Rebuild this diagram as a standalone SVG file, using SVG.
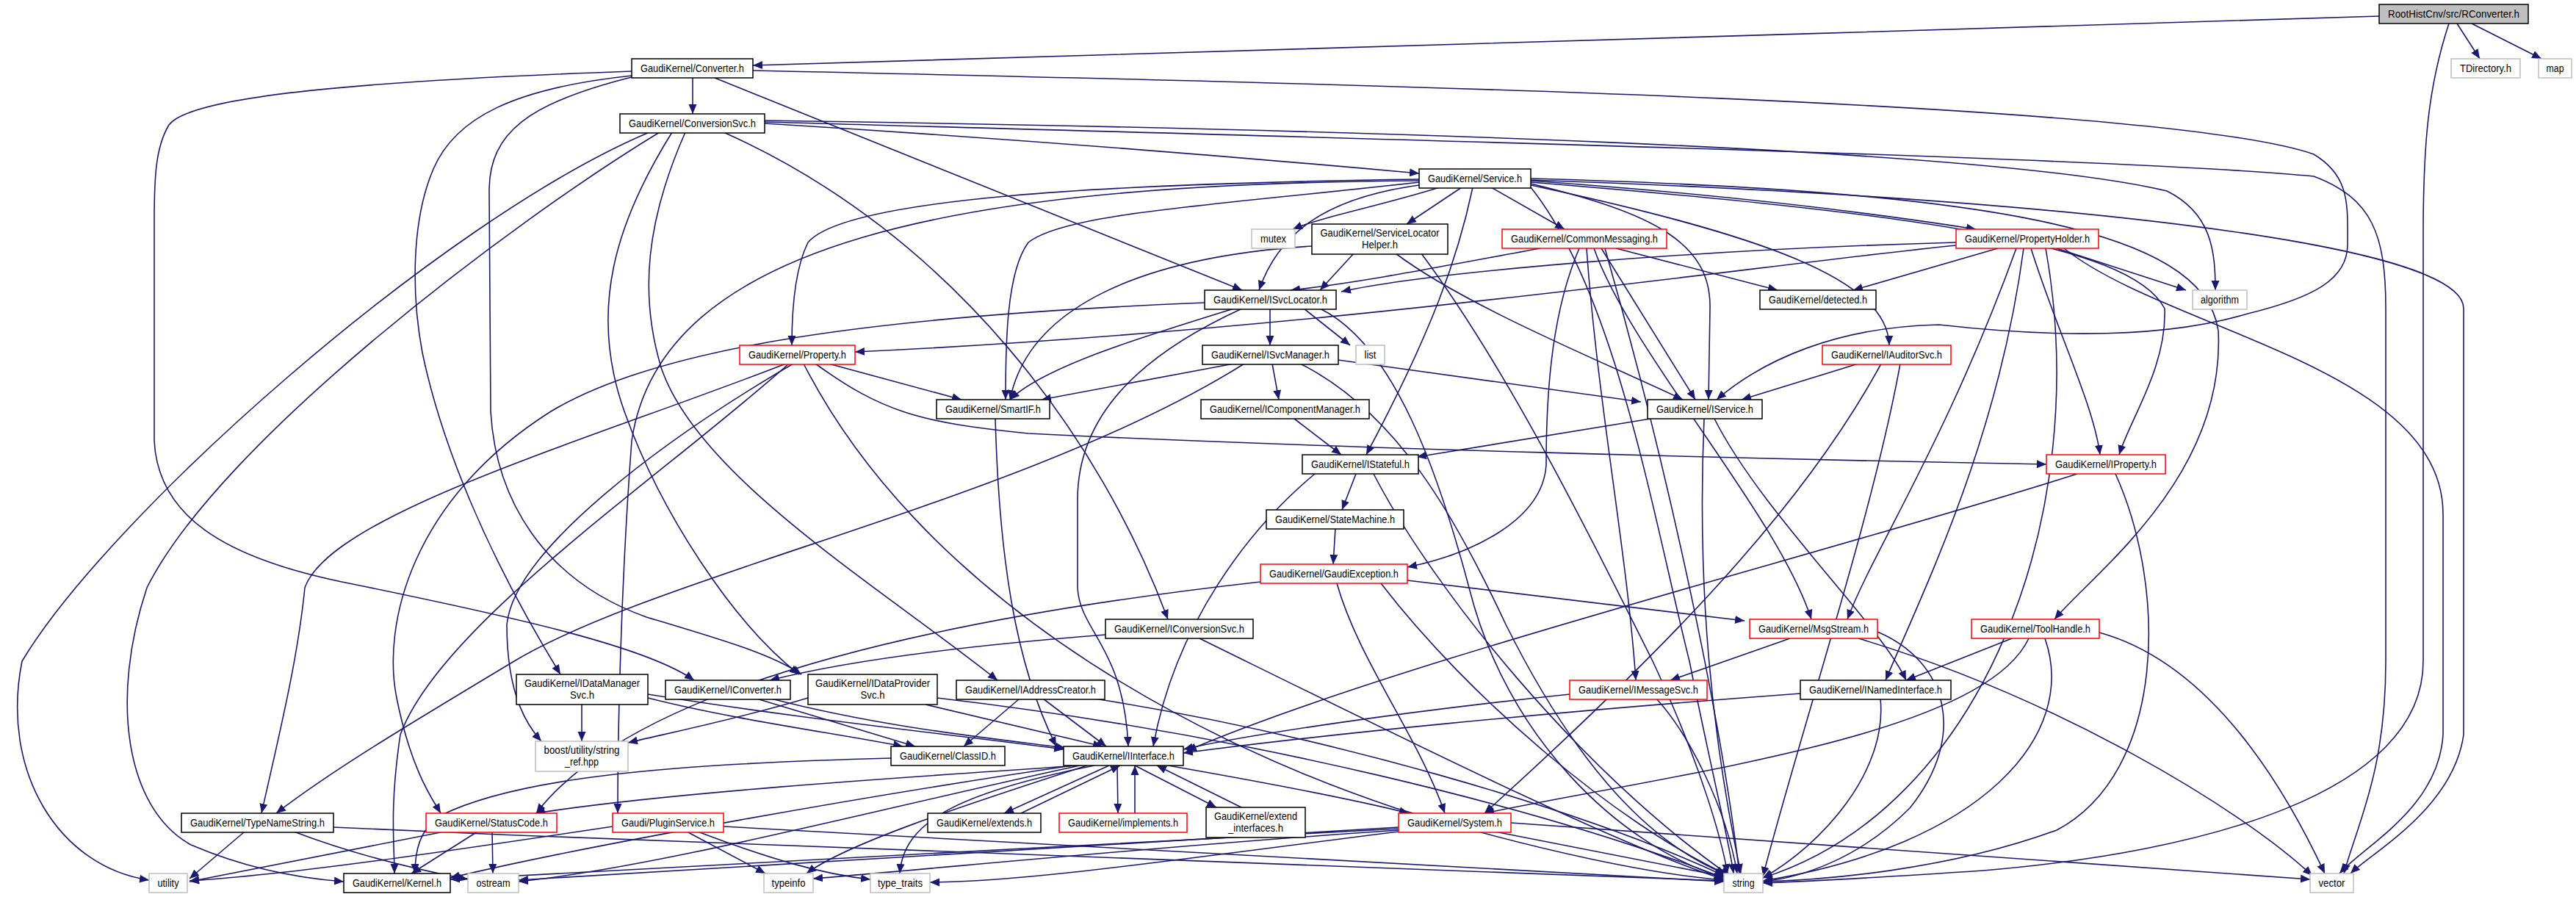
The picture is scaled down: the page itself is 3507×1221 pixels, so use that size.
<svg xmlns="http://www.w3.org/2000/svg" width="3507" height="1221" viewBox="0 0 3507 1221">
<style>
.b{fill:#fff;stroke:#000;stroke-width:1.5}
.r{fill:#fff;stroke:#ff0000;stroke-width:1.5}
.g{fill:#fff;stroke:#bfbfbf;stroke-width:1.5}
.f{fill:#bfbfbf;stroke:#000;stroke-width:1.5}
text{font-family:"Liberation Sans",Arial,sans-serif;font-size:14px;fill:#000;text-anchor:middle}
#connectors path{fill:none;stroke:#191970;stroke-width:1.6;marker-end:url(#a)}
</style>
<defs>
<marker id="a" markerUnits="userSpaceOnUse" markerWidth="14" markerHeight="12" refX="13" refY="6" orient="auto"><path d="M0,0.5 L13,6 L0,11.5 z" fill="#191970"/></marker>
</defs>
<rect width="3507" height="1221" fill="#fff"/>
<g id="connectors">
<path d="M3239,22 C2500,45 1600,72 1025,89"/>
<path d="M3345,32 L3376,80"/>
<path d="M3365,32 L3460,80"/>
<path d="M3334,32 C3305,120 3299,200 3299,320 L3299,900 C3299,1080 3000,1160 2700,1185 C2550,1195 2450,1200 2400,1202"/>
<path d="M943,106 L943,155"/>
<path d="M973,106 L1691,395"/>
<path d="M1025,96 C1900,115 2950,140 3150,210 C3200,240 3196,280 3196,333 C3196,380 3150,405 3060,427 C2950,460 2800,460 2640,442 C2500,445 2400,490 2337,544"/>
<path d="M860,97 C500,110 260,130 230,170 C212,200 210,240 210,300 L210,600 C215,700 300,760 480,795 C700,840 880,880 945,926"/>
<path d="M860,103 C700,120 620,160 590,230 C560,300 560,400 575,480 C600,600 660,750 763,918"/>
<path d="M860,105 C720,140 666,180 666,260 L668,560 C675,680 740,790 880,840 C980,870 1050,890 1091,918"/>
<path d="M1041,168 C1400,190 1700,215 1932,236"/>
<path d="M985,180 C1300,320 1500,600 1590,843"/>
<path d="M933,180 C880,300 870,400 900,500 C950,650 1200,800 1358,926"/>
<path d="M915,180 C840,300 800,420 850,560 C900,700 1000,850 1088,918"/>
<path d="M884,180 C600,300 150,700 30,900 C0,1050 80,1180 203,1198"/>
<path d="M898,180 C700,300 300,600 200,800 C150,950 170,1100 260,1150 C330,1180 400,1195 468,1200"/>
<path d="M1041,164 C1800,175 2700,200 2950,260 C3010,290 3016,340 3016,395"/>
<path d="M1041,166 C1900,190 2900,215 3150,240 C3230,270 3248,320 3248,420 L3248,900 C3248,1050 3210,1120 3191,1189"/>
<path d="M1960,255 C1880,280 1800,295 1760,312"/>
<path d="M1990,255 L1915,305"/>
<path d="M2030,255 L2130,312"/>
<path d="M2084,246 C2350,265 2550,290 2690,312"/>
<path d="M1932,252 C1800,270 1740,320 1714,395"/>
<path d="M1932,248 C1650,280 1450,290 1400,330 C1370,370 1369,470 1369,544"/>
<path d="M2084,250 C2250,290 2330,330 2328,420 L2326,544"/>
<path d="M2005,255 C1985,350 1950,450 1860,619"/>
<path d="M1932,244 C1500,250 1150,270 1100,330 C1080,370 1078,430 1078,470"/>
<path d="M2084,252 C2400,320 2570,380 2572,470"/>
<path d="M2084,248 C2600,290 2900,330 2947,420 C2950,500 2900,570 2885,619"/>
<path d="M2084,243 C2700,260 3000,310 3020,450 C3030,650 2850,780 2797,843"/>
<path d="M1932,246 C1300,250 900,330 860,600 C845,800 841,1000 841,1107"/>
<path d="M2084,245 C2800,270 3354,330 3354,420 L3354,1000 C3340,1100 3230,1160 3200,1189"/>
<path d="M2084,255 C2200,400 2250,700 2300,900 C2330,1050 2355,1150 2360,1189"/>
<path d="M1843,345 L1797,395"/>
<path d="M1786,335 C1550,350 1400,420 1375,544"/>
<path d="M1900,345 C2000,420 2200,500 2291,544"/>
<path d="M1935,345 C2050,500 2150,700 2250,900 C2320,1050 2345,1150 2352,1189"/>
<path d="M2097,338 C1950,365 1850,385 1757,395"/>
<path d="M2180,338 L2308,544"/>
<path d="M2200,338 L2420,395"/>
<path d="M2150,338 C2115,420 2105,520 2105,633 C2100,710 2000,755 1916,772"/>
<path d="M2170,338 C2220,480 2420,700 2466,843"/>
<path d="M2160,338 C2175,550 2215,750 2227,926"/>
<path d="M2185,338 C2260,600 2340,950 2368,1189"/>
<path d="M2663,330 C2300,340 1950,370 1826,397"/>
<path d="M2720,338 L2523,395"/>
<path d="M2800,338 L2976,395"/>
<path d="M2663,334 C2400,360 1800,450 1164,479"/>
<path d="M2765,338 C2800,450 2850,550 2859,619"/>
<path d="M2745,338 C2650,600 2550,750 2515,843"/>
<path d="M2755,338 C2720,600 2620,800 2567,926"/>
<path d="M2785,338 C2850,700 2700,1100 2400,1195"/>
<path d="M2810,338 C2950,450 3326,500 3326,700 L3326,1000 C3320,1100 3220,1150 3185,1189"/>
<path d="M1729,420 L1729,470"/>
<path d="M1775,420 L1838,470"/>
<path d="M1680,420 C1550,460 1420,500 1375,544"/>
<path d="M1691,420 C1560,480 1467,560 1467,680 L1467,800 C1470,860 1530,880 1536,1016"/>
<path d="M1797,420 C1900,470 1960,650 2000,800 C2050,1000 2200,1150 2347,1195"/>
<path d="M1640,412 C1200,430 900,470 750,560 C560,680 520,850 540,950 C560,1050 590,1090 600,1107"/>
<path d="M1128,495 L1309,544"/>
<path d="M1110,495 C1200,560 1250,575 1400,590 C1800,610 2400,625 2786,632"/>
<path d="M1094,495 C1250,800 1600,1000 1900,1100 C2100,1160 2250,1190 2347,1198"/>
<path d="M1070,495 C800,600 450,700 415,800 C405,900 380,1000 356,1107"/>
<path d="M1074,495 C900,650 600,850 545,1000 C530,1100 537,1150 537,1189"/>
<path d="M1080,495 C900,600 700,750 690,850 C690,950 720,990 737,1009"/>
<path d="M1680,495 L1418,544"/>
<path d="M1732,495 L1741,544"/>
<path d="M1822,490 L2234,547"/>
<path d="M1694,495 C1400,680 900,780 700,900 C550,990 450,1050 376,1107"/>
<path d="M1770,495 C1900,560 1980,700 2050,850 C2150,1050 2250,1150 2350,1190"/>
<path d="M2530,495 L2371,544"/>
<path d="M2561,495 C2450,700 2250,900 2021,1107"/>
<path d="M2587,495 C2550,700 2450,1000 2400,1193"/>
<path d="M1355,570 C1360,750 1380,900 1438,1016"/>
<path d="M1762,570 L1826,619"/>
<path d="M2247,570 L1929,622"/>
<path d="M2334,570 C2400,700 2560,850 2595,926"/>
<path d="M2320,570 C2310,800 2330,1000 2370,1189"/>
<path d="M1846,645 L1827,694"/>
<path d="M1790,645 C1700,720 1600,850 1570,1016"/>
<path d="M1870,645 C1950,800 2150,1050 2355,1192"/>
<path d="M2828,645 C2500,750 1900,900 1616,1022"/>
<path d="M2880,645 C2950,800 2950,1050 2800,1130 C2650,1185 2480,1198 2400,1200"/>
<path d="M1818,719 L1815,768"/>
<path d="M1916,790 L2375,845"/>
<path d="M1820,794 C1850,900 1930,1000 1967,1107"/>
<path d="M1716,792 C1200,850 850,950 730,1107"/>
<path d="M1880,794 C2000,950 2200,1120 2350,1190"/>
<path d="M1505,864 C1300,880 1150,900 1048,926"/>
<path d="M1633,869 C1900,1000 2200,1150 2347,1197"/>
<path d="M2437,869 L2274,926"/>
<path d="M2556,860 C2650,900 2680,1000 2600,1100 C2530,1170 2450,1195 2400,1200"/>
<path d="M2530,869 C2800,950 3050,1100 3148,1192"/>
<path d="M2739,869 L2595,926"/>
<path d="M2762,869 C2700,1000 2300,1050 2021,1107"/>
<path d="M2784,869 C2830,1000 2700,1150 2400,1199"/>
<path d="M2858,861 C3000,900 3100,1050 3165,1189"/>
<path d="M792,959 L792,1009"/>
<path d="M882,950 C1000,980 1150,1000 1229,1016"/>
<path d="M882,945 C1100,980 1300,1000 1448,1020"/>
<path d="M1030,951 L1246,1016"/>
<path d="M1050,951 C1200,990 1350,1005 1450,1018"/>
<path d="M1100,950 C1000,980 900,1000 855,1011"/>
<path d="M1260,959 L1501,1016"/>
<path d="M1276,950 C1700,1000 2100,1100 2347,1195"/>
<path d="M1388,951 L1312,1016"/>
<path d="M1420,951 L1506,1016"/>
<path d="M1490,951 C1800,1000 2150,1100 2347,1192"/>
<path d="M2137,945 C1900,970 1700,1000 1611,1020"/>
<path d="M2255,951 C2300,1000 2350,1100 2365,1189"/>
<path d="M2451,944 C2100,970 1800,1000 1611,1025"/>
<path d="M2560,951 C2570,1050 2480,1150 2400,1195"/>
<path d="M1213,1032 C900,1040 700,1060 600,1110 C570,1130 565,1160 565,1189"/>
<path d="M1470,1042 C1200,1060 900,1080 729,1107"/>
<path d="M1510,1042 L1367,1107"/>
<path d="M1521,1042 L1522,1107"/>
<path d="M1545,1042 L1656,1099"/>
<path d="M1590,1042 C1750,1070 1850,1090 1918,1107"/>
<path d="M1460,1042 C1200,1080 800,1150 613,1195"/>
<path d="M1470,1042 C1200,1100 900,1180 706,1200"/>
<path d="M1480,1042 C1300,1100 1150,1150 1098,1189"/>
<path d="M1490,1042 C1300,1080 1230,1120 1225,1189"/>
<path d="M1390,1107 L1525,1042"/>
<path d="M1545,1107 L1545,1042"/>
<path d="M1690,1099 L1575,1042"/>
<path d="M333,1132 L258,1196"/>
<path d="M400,1132 C500,1170 600,1190 637,1197"/>
<path d="M454,1126 C1200,1160 2000,1185 2347,1199"/>
<path d="M605,1132 L258,1200"/>
<path d="M650,1132 L560,1189"/>
<path d="M670,1132 L671,1189"/>
<path d="M834,1125 C600,1160 400,1190 258,1199"/>
<path d="M935,1132 L1042,1189"/>
<path d="M950,1132 C1050,1170 1120,1190 1185,1197"/>
<path d="M985,1125 C1600,1160 2100,1190 2347,1200"/>
<path d="M1904,1128 C1500,1150 900,1180 613,1197"/>
<path d="M1904,1130 C1600,1150 1300,1180 1107,1196"/>
<path d="M1904,1132 C1600,1170 1400,1200 1266,1201"/>
<path d="M2035,1132 L2347,1193"/>
<path d="M2057,1120 C2500,1150 2900,1180 3145,1197"/>
<path d="M1904,1126 C1400,1160 900,1190 706,1198"/>
</g>
<g id="n0"><rect class="f" x="3239" y="6" width="203" height="26"/><text x="3340.5" y="24" textLength="179" lengthAdjust="spacingAndGlyphs">RootHistCnv/src/RConverter.h</text></g>
<g id="n1"><rect class="b" x="860" y="80" width="165" height="26"/><text x="942.5" y="98" textLength="141" lengthAdjust="spacingAndGlyphs">GaudiKernel/Converter.h</text></g>
<g id="n2"><rect class="g" x="3337" y="80" width="94" height="26"/><text x="3384" y="98" textLength="70" lengthAdjust="spacingAndGlyphs">TDirectory.h</text></g>
<g id="n3"><rect class="g" x="3456" y="80" width="45" height="26"/><text x="3478.5" y="98" textLength="24" lengthAdjust="spacingAndGlyphs">map</text></g>
<g id="n4"><rect class="b" x="844" y="155" width="197" height="26"/><text x="942.5" y="173" textLength="173" lengthAdjust="spacingAndGlyphs">GaudiKernel/ConversionSvc.h</text></g>
<g id="n5"><rect class="b" x="1932" y="230" width="152" height="26"/><text x="2008" y="248" textLength="128" lengthAdjust="spacingAndGlyphs">GaudiKernel/Service.h</text></g>
<g id="n6"><rect class="g" x="1704" y="312" width="59" height="26"/><text x="1733.5" y="330" textLength="35" lengthAdjust="spacingAndGlyphs">mutex</text></g>
<g id="n7"><rect class="b" x="1786" y="305" width="185" height="41"/><text x="1878.5" y="322" textLength="162" lengthAdjust="spacingAndGlyphs">GaudiKernel/ServiceLocator</text><text x="1878.5" y="338" textLength="49" lengthAdjust="spacingAndGlyphs">Helper.h</text></g>
<g id="n8"><rect class="r" x="2045" y="312" width="224" height="26"/><text x="2157" y="330" textLength="200" lengthAdjust="spacingAndGlyphs">GaudiKernel/CommonMessaging.h</text></g>
<g id="n9"><rect class="r" x="2663" y="312" width="194" height="26"/><text x="2760" y="330" textLength="170" lengthAdjust="spacingAndGlyphs">GaudiKernel/PropertyHolder.h</text></g>
<g id="n10"><rect class="b" x="1640" y="395" width="179" height="26"/><text x="1729.5" y="413" textLength="155" lengthAdjust="spacingAndGlyphs">GaudiKernel/ISvcLocator.h</text></g>
<g id="n11"><rect class="b" x="2396" y="395" width="158" height="26"/><text x="2475" y="413" textLength="134" lengthAdjust="spacingAndGlyphs">GaudiKernel/detected.h</text></g>
<g id="n12"><rect class="g" x="2985" y="395" width="74" height="26"/><text x="3022" y="413" textLength="52" lengthAdjust="spacingAndGlyphs">algorithm</text></g>
<g id="n13"><rect class="r" x="1007" y="470" width="157" height="26"/><text x="1085.5" y="488" textLength="133" lengthAdjust="spacingAndGlyphs">GaudiKernel/Property.h</text></g>
<g id="n14"><rect class="b" x="1637" y="470" width="185" height="26"/><text x="1729.5" y="488" textLength="161" lengthAdjust="spacingAndGlyphs">GaudiKernel/ISvcManager.h</text></g>
<g id="n15"><rect class="g" x="1846" y="470" width="39" height="26"/><text x="1865.5" y="488" textLength="16" lengthAdjust="spacingAndGlyphs">list</text></g>
<g id="n16"><rect class="r" x="2481" y="470" width="175" height="26"/><text x="2568.5" y="488" textLength="151" lengthAdjust="spacingAndGlyphs">GaudiKernel/IAuditorSvc.h</text></g>
<g id="n17"><rect class="b" x="1275" y="544" width="154" height="26"/><text x="1352" y="562" textLength="130" lengthAdjust="spacingAndGlyphs">GaudiKernel/SmartIF.h</text></g>
<g id="n18"><rect class="b" x="1635" y="544" width="229" height="26"/><text x="1749.5" y="562" textLength="205" lengthAdjust="spacingAndGlyphs">GaudiKernel/IComponentManager.h</text></g>
<g id="n19"><rect class="b" x="2243" y="544" width="156" height="26"/><text x="2321" y="562" textLength="132" lengthAdjust="spacingAndGlyphs">GaudiKernel/IService.h</text></g>
<g id="n20"><rect class="b" x="1773" y="619" width="158" height="26"/><text x="1852" y="637" textLength="134" lengthAdjust="spacingAndGlyphs">GaudiKernel/IStateful.h</text></g>
<g id="n21"><rect class="r" x="2786" y="619" width="162" height="26"/><text x="2867" y="637" textLength="138" lengthAdjust="spacingAndGlyphs">GaudiKernel/IProperty.h</text></g>
<g id="n22"><rect class="b" x="1724" y="694" width="187" height="26"/><text x="1817.5" y="712" textLength="163" lengthAdjust="spacingAndGlyphs">GaudiKernel/StateMachine.h</text></g>
<g id="n23"><rect class="r" x="1716" y="768" width="200" height="26"/><text x="1816" y="786" textLength="176" lengthAdjust="spacingAndGlyphs">GaudiKernel/GaudiException.h</text></g>
<g id="n24"><rect class="b" x="1505" y="843" width="201" height="26"/><text x="1605.5" y="861" textLength="177" lengthAdjust="spacingAndGlyphs">GaudiKernel/IConversionSvc.h</text></g>
<g id="n25"><rect class="r" x="2382" y="843" width="174" height="26"/><text x="2469" y="861" textLength="150" lengthAdjust="spacingAndGlyphs">GaudiKernel/MsgStream.h</text></g>
<g id="n26"><rect class="r" x="2684" y="843" width="174" height="26"/><text x="2771" y="861" textLength="150" lengthAdjust="spacingAndGlyphs">GaudiKernel/ToolHandle.h</text></g>
<g id="n27"><rect class="b" x="703" y="918" width="179" height="41"/><text x="792.5" y="935" textLength="157" lengthAdjust="spacingAndGlyphs">GaudiKernel/IDataManager</text><text x="792.5" y="951" textLength="33" lengthAdjust="spacingAndGlyphs">Svc.h</text></g>
<g id="n28"><rect class="b" x="906" y="926" width="170" height="26"/><text x="991" y="944" textLength="146" lengthAdjust="spacingAndGlyphs">GaudiKernel/IConverter.h</text></g>
<g id="n29"><rect class="b" x="1100" y="918" width="176" height="41"/><text x="1188" y="935" textLength="156" lengthAdjust="spacingAndGlyphs">GaudiKernel/IDataProvider</text><text x="1188" y="951" textLength="33" lengthAdjust="spacingAndGlyphs">Svc.h</text></g>
<g id="n30"><rect class="b" x="1302" y="926" width="202" height="26"/><text x="1403" y="944" textLength="178" lengthAdjust="spacingAndGlyphs">GaudiKernel/IAddressCreator.h</text></g>
<g id="n31"><rect class="r" x="2137" y="926" width="187" height="26"/><text x="2230.5" y="944" textLength="163" lengthAdjust="spacingAndGlyphs">GaudiKernel/IMessageSvc.h</text></g>
<g id="n32"><rect class="b" x="2451" y="926" width="205" height="26"/><text x="2553.5" y="944" textLength="181" lengthAdjust="spacingAndGlyphs">GaudiKernel/INamedInterface.h</text></g>
<g id="n33"><rect class="g" x="729" y="1009" width="126" height="41"/><text x="792" y="1026" textLength="103" lengthAdjust="spacingAndGlyphs">boost/utility/string</text><text x="792" y="1042" textLength="46" lengthAdjust="spacingAndGlyphs">_ref.hpp</text></g>
<g id="n34"><rect class="b" x="1213" y="1016" width="155" height="26"/><text x="1290.5" y="1034" textLength="131" lengthAdjust="spacingAndGlyphs">GaudiKernel/ClassID.h</text></g>
<g id="n35"><rect class="b" x="1448" y="1016" width="163" height="26"/><text x="1529.5" y="1034" textLength="139" lengthAdjust="spacingAndGlyphs">GaudiKernel/IInterface.h</text></g>
<g id="n36"><rect class="b" x="247" y="1107" width="207" height="26"/><text x="350.5" y="1125" textLength="183" lengthAdjust="spacingAndGlyphs">GaudiKernel/TypeNameString.h</text></g>
<g id="n37"><rect class="r" x="580" y="1107" width="178" height="26"/><text x="669" y="1125" textLength="154" lengthAdjust="spacingAndGlyphs">GaudiKernel/StatusCode.h</text></g>
<g id="n38"><rect class="r" x="834" y="1107" width="151" height="26"/><text x="909.5" y="1125" textLength="127" lengthAdjust="spacingAndGlyphs">Gaudi/PluginService.h</text></g>
<g id="n39"><rect class="b" x="1263" y="1107" width="154" height="26"/><text x="1340" y="1125" textLength="130" lengthAdjust="spacingAndGlyphs">GaudiKernel/extends.h</text></g>
<g id="n40"><rect class="r" x="1442" y="1107" width="174" height="26"/><text x="1529" y="1125" textLength="150" lengthAdjust="spacingAndGlyphs">GaudiKernel/implements.h</text></g>
<g id="n41"><rect class="b" x="1642" y="1099" width="135" height="41"/><text x="1709.5" y="1116" textLength="113" lengthAdjust="spacingAndGlyphs">GaudiKernel/extend</text><text x="1709.5" y="1132" textLength="75" lengthAdjust="spacingAndGlyphs">_interfaces.h</text></g>
<g id="n42"><rect class="r" x="1904" y="1107" width="153" height="26"/><text x="1980.5" y="1125" textLength="129" lengthAdjust="spacingAndGlyphs">GaudiKernel/System.h</text></g>
<g id="n43"><rect class="g" x="203" y="1189" width="52" height="26"/><text x="229" y="1207" textLength="29" lengthAdjust="spacingAndGlyphs">utility</text></g>
<g id="n44"><rect class="b" x="468" y="1189" width="145" height="26"/><text x="540.5" y="1207" textLength="121" lengthAdjust="spacingAndGlyphs">GaudiKernel/Kernel.h</text></g>
<g id="n45"><rect class="g" x="637" y="1189" width="69" height="26"/><text x="671.5" y="1207" textLength="46" lengthAdjust="spacingAndGlyphs">ostream</text></g>
<g id="n46"><rect class="g" x="1040" y="1189" width="67" height="26"/><text x="1073.5" y="1207" textLength="46" lengthAdjust="spacingAndGlyphs">typeinfo</text></g>
<g id="n47"><rect class="g" x="1185" y="1189" width="81" height="26"/><text x="1225.5" y="1207" textLength="61" lengthAdjust="spacingAndGlyphs">type_traits</text></g>
<g id="n48"><rect class="g" x="2347" y="1189" width="53" height="26"/><text x="2373.5" y="1207" textLength="30" lengthAdjust="spacingAndGlyphs">string</text></g>
<g id="n49"><rect class="g" x="3145" y="1189" width="59" height="26"/><text x="3174.5" y="1207" textLength="36" lengthAdjust="spacingAndGlyphs">vector</text></g>
</svg>
